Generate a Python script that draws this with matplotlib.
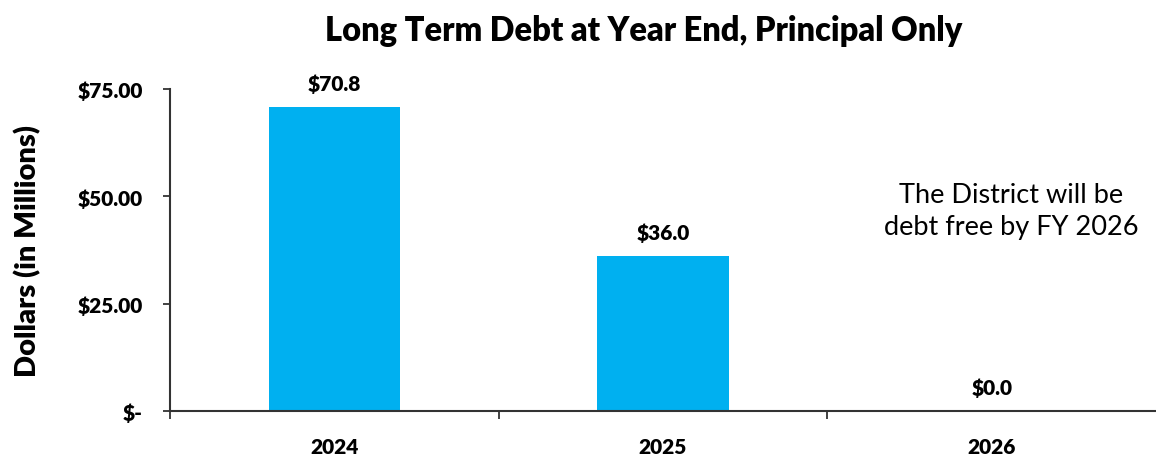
import matplotlib.pyplot as plt

plt.rcParams['font.family'] = ['Lato', 'DejaVu Sans']

years = ["2024", "2025", "2026"]
debt = [70.8, 36.0, 0.0]
y_ticks = [0, 25, 50, 75]
y_tick_labels = ["$-", "$25.00", "$50.00", "$75.00"]

W = "heavy"

fig = plt.figure(figsize=(11.56, 4.56), dpi=100)
ax = fig.add_axes([170 / 1156, 44 / 456, 986 / 1156, 322 / 456])

x = range(len(years))
ax.bar(x, debt, width=0.4, color="#00B0F0")

for i, v in enumerate(debt):
    ax.text(i, v + 3.3, f"${v:.1f}", ha="center", va="bottom",
            fontsize=15, fontweight=W)

ax.set_xlim(-0.5, len(years) - 0.5)
ax.set_ylim(0, 75)

# category labels centred, tick marks between categories
ax.set_xticks([i + 0.5 for i in range(-1, len(years) - 1)])
ax.set_xticklabels([])
ax.set_xticks(list(x), minor=True)
ax.set_xticklabels(years, minor=True, fontsize=15, fontweight=W)
ax.tick_params(axis="x", which="major", length=5.5, width=1.3, color="#333333", direction="out")
ax.tick_params(axis="x", which="minor", length=0, pad=19)

ax.set_yticks(y_ticks)
ax.set_yticklabels(y_tick_labels, fontsize=15, fontweight=W)
ax.tick_params(axis="y", length=5, width=1.3, color="#333333", pad=14.5)

ax.spines["top"].set_visible(False)
ax.spines["right"].set_visible(False)
for s in ["left", "bottom"]:
    ax.spines[s].set_linewidth(1.5)
    ax.spines[s].set_color("#333333")

ax.set_ylabel("Dollars (in Millions)", fontsize=21, fontweight=W)
ax.yaxis.set_label_coords(-129 / 986, 0.5)

ax.text(2.06, 46.6, "The District will be\ndebt free by FY 2026", ha="center", va="center",
        fontsize=19.5, linespacing=1.35)

fig.suptitle("Long Term Debt at Year End, Principal Only", x=0.557, y=0.968,
             fontsize=23.5, fontweight=W)

fig.savefig("out.png", dpi=100)
